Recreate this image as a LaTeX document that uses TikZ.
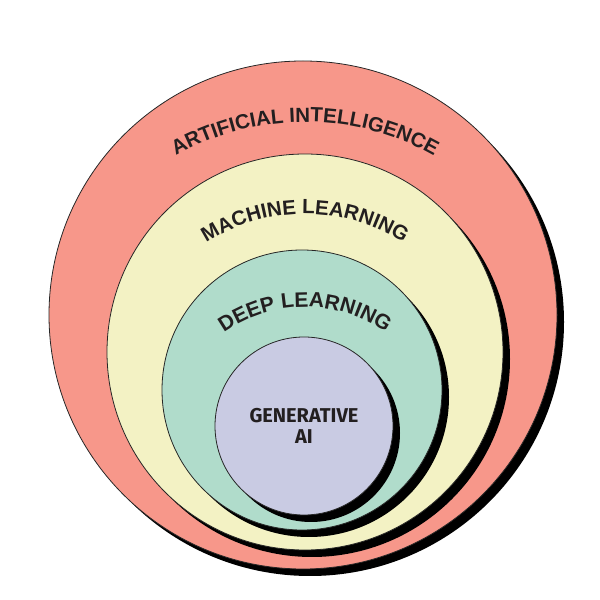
\documentclass[tikz,border=0pt]{standalone}
\usepackage{fontspec}
\setmainfont{Fira Sans}
\newfontfamily\arcfam{Liberation Sans}
\usetikzlibrary{decorations.text,shadows}
\definecolor{aicol}{HTML}{F7978A}
\definecolor{mlcol}{HTML}{F3F2C4}
\definecolor{dlcol}{HTML}{B0DCCB}
\definecolor{gencol}{HTML}{C9CBE3}
\definecolor{txtcol}{HTML}{231F20}
\newcommand{\arcfont}[1]{\fontsize{#1}{#1}\selectfont\bfseries}

\begin{document}
\begin{tikzpicture}[
    x=1pt, y=1pt,
    ring/.style={
        circle,
        draw=black!85,
        line width=0.8pt,
        inner sep=0pt,
        drop shadow={shadow xshift=7pt, shadow yshift=-7pt, fill=black, opacity=1}
    },
    arctext/.style={
        decorate,
        decoration={text along path, text align=center, text color=txtcol, text={#1}}
    }
]
\useasboundingbox (0,0) rectangle (600,600);
% Nested circles
\node[ring, fill=aicol, minimum size=508pt] (ai) at (303,285) {};
\node[ring, fill=mlcol, minimum size=396pt] (ml) at (305,248) {};
\node[ring, fill=dlcol, minimum size=280pt] (dl) at (302,210) {};
\node[ring, fill=gencol, minimum size=178pt, align=center, text=txtcol,
      font=\arcfont{20}] (gen) at (304,174) {GENERATIVE\\[1pt]AI};
% Curved labels
\path[arctext={|\arcfam\arcfont{20.5}|ARTIFICIAL INTELLIGENCE}]
    ([shift={(151:262)}]305,216) arc[start angle=151, end angle=29, radius=262];
\path[arctext={|\arcfam\arcfont{20.5}|MACHINE LEARNING}]
    ([shift={(150:183)}]305,203) arc[start angle=150, end angle=30, radius=183];
\path[arctext={|\arcfam\arcfont{21}|DEEP LEARNING}]
    ([shift={(150:140)}]305,153) arc[start angle=150, end angle=30, radius=140];
\end{tikzpicture}
\end{document}
